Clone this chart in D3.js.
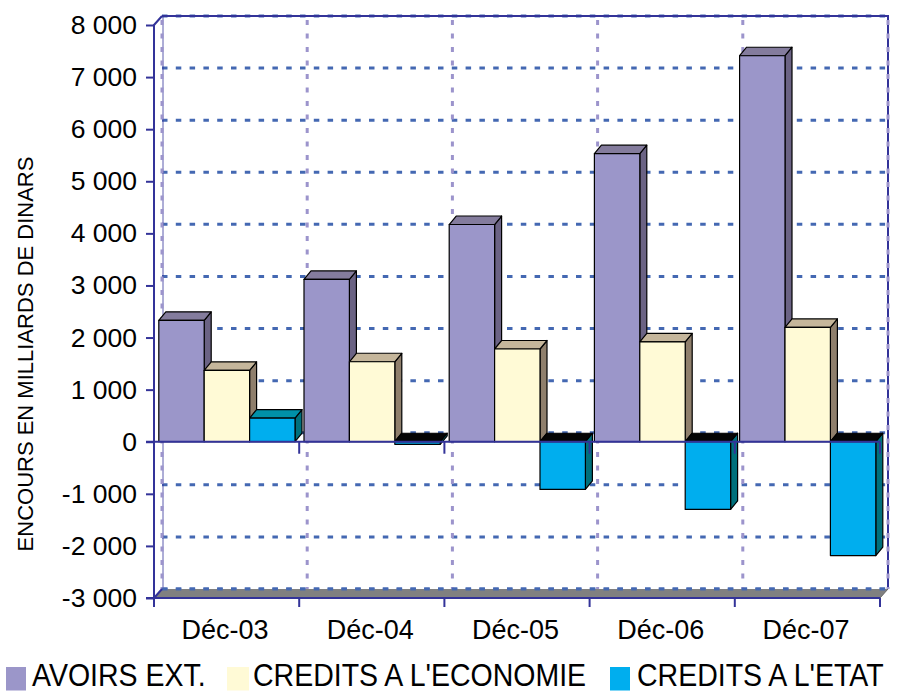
<!DOCTYPE html>
<html>
<head>
<meta charset="utf-8">
<script src="https://cdn.jsdelivr.net/npm/d3@7/dist/d3.min.js"></script>
<style>
  html, body { margin: 0; padding: 0; background: #fff; }
  svg { display: block; font-family: "Liberation Sans", Arial, sans-serif; }
</style>
</head>
<body>
<svg id="chart" width="898" height="693"></svg>
<script>
// ---- data ----
const categories = ["Déc-03", "Déc-04", "Déc-05", "Déc-06", "Déc-07"];
const seriesNames = ["AVOIRS EXT.", "CREDITS A L'ECONOMIE", "CREDITS A L'ETAT"];
const avoirsExt = [2330, 3115, 4170, 5530, 7410];
const creditsEconomie = [1370, 1535, 1780, 1915, 2195];
const creditsEtat = [455, -50, -915, -1300, -2185];
const yTickValues = [-3000, -2000, -1000, 0, 1000, 2000, 3000, 4000, 5000, 6000, 7000, 8000];
const yTitle = "ENCOURS EN MILLIARDS DE DINARS";

// ---- styles ----
const faceColors = [
  { front: "#9b96c9", top: "#847c9d", side: "#6b6384" },
  { front: "#fffad6", top: "#c5b69b", side: "#8f7f6c" },
  { front: "#00aeee", top: "#0090a8", side: "#00707c", negTop: "#050505" }
];
const legendColors = ["#9b96c9", "#fffad6", "#00aeee"];
const axisBlue = "#333399";
const gridBlue = "#4468b2";
const gridLav = "#9c94cc";

const svg = d3.select("#chart");

// ---- scales ----
const x0 = 154, x1 = 880;
const y = d3.scaleLinear().domain([-3000, 8000]).range([598, 25]);
const x = d3.scaleBand().domain(categories).range([x0, x1]).padding(0);
const xs = d3.scaleBand().domain(d3.range(3)).range([4.8, 4.8 + 136.2]).padding(0);

const wdx = 8, wdy = -9;   // wall depth
const bdx = 7, bdy = -8.5; // bar depth

// ---- back wall ----
svg.append("rect")
  .attr("x", x0 + wdx).attr("y", y(8000) + wdy)
  .attr("width", x1 - x0).attr("height", y(-3000) - y(8000))
  .attr("fill", "#fff");

// horizontal gridlines (back wall)
svg.append("g").selectAll("line").data(yTickValues).join("line")
  .attr("x1", x0 + wdx).attr("x2", x1 + wdx)
  .attr("y1", d => y(d) + wdy).attr("y2", d => y(d) + wdy)
  .attr("stroke", gridBlue).attr("stroke-width", 3)
  .attr("stroke-dasharray", "5.5,8.3");

// wall top & right border
svg.append("path")
  .attr("d", `M${x0 + wdx},${y(8000) + wdy}H${x1 + wdx}V${y(-3000) + wdy}`)
  .attr("fill", "none").attr("stroke", axisBlue).attr("stroke-width", 2);
svg.append("line")
  .attr("x1", x0 + wdx + 1).attr("x2", x0 + wdx + 1)
  .attr("y1", y(8000) + wdy).attr("y2", y(-3000) + wdy)
  .attr("stroke", axisBlue).attr("stroke-width", 0.8);

// vertical gridlines
const boundaries = categories.map(c => x(c)).concat([x1]);
svg.append("g").selectAll("line").data(boundaries).join("line")
  .attr("x1", d => d + wdx).attr("x2", d => d + wdx)
  .attr("y1", y(8000) + wdy + 4).attr("y2", y(-3000) + wdy)
  .attr("stroke", gridLav).attr("stroke-width", 3)
  .attr("stroke-dasharray", "5,8.5");

// floor
svg.append("path")
  .attr("d", `M${x0},${y(-3000)}L${x1},${y(-3000)}L${x1 + wdx},${y(-3000) + wdy}L${x0 + wdx},${y(-3000) + wdy}Z`)
  .attr("fill", "#808080");
svg.append("line")
  .attr("x1", x0 + wdx).attr("x2", x1 + wdx)
  .attr("y1", y(-3000) + wdy).attr("y2", y(-3000) + wdy)
  .attr("stroke", gridBlue).attr("stroke-width", 3)
  .attr("stroke-dasharray", "5.5,8.3");

// ---- bars ----
const seriesValues = [avoirsExt, creditsEconomie, creditsEtat];
const barsG = svg.append("g");
categories.forEach((cat, ci) => {
  seriesValues.forEach((vals, si) => {
    const v = vals[ci];
    const bx = x(cat) + xs(si);
    const bw = xs.bandwidth();
    const yTop = y(Math.max(v, 0));
    const yBot = y(Math.min(v, 0));
    const col = faceColors[si];
    const g = barsG.append("g").attr("stroke", "#000").attr("stroke-width", 1.2).attr("stroke-linejoin", "round");
    // side face
    g.append("path")
      .attr("d", `M${bx + bw},${yTop}L${bx + bw + bdx},${yTop + bdy}L${bx + bw + bdx},${yBot + bdy}L${bx + bw},${yBot}Z`)
      .attr("fill", col.side);
    // top face
    g.append("path")
      .attr("d", `M${bx},${yTop}L${bx + bdx},${yTop + bdy}L${bx + bw + bdx},${yTop + bdy}L${bx + bw},${yTop}Z`)
      .attr("fill", v < 0 ? col.negTop : col.top);
    // front face
    g.append("rect")
      .attr("x", bx).attr("y", yTop).attr("width", bw).attr("height", Math.max(yBot - yTop, 0.5))
      .attr("fill", col.front);
  });
});

// ---- axes ----
// zero line with category ticks
svg.append("line")
  .attr("x1", x0 - 8).attr("x2", x1).attr("y1", y(0)).attr("y2", y(0))
  .attr("stroke", axisBlue).attr("stroke-width", 2);
svg.append("g").selectAll("line").data(boundaries.slice(1)).join("line")
  .attr("x1", d => d).attr("x2", d => d)
  .attr("y1", y(0)).attr("y2", y(0) + 12)
  .attr("stroke", axisBlue).attr("stroke-width", 2);

// bottom axis line and ticks
svg.append("line")
  .attr("x1", x0 - 8).attr("x2", x1).attr("y1", y(-3000)).attr("y2", y(-3000))
  .attr("stroke", axisBlue).attr("stroke-width", 2);
svg.append("g").selectAll("line").data(boundaries).join("line")
  .attr("x1", d => d).attr("x2", d => d)
  .attr("y1", y(-3000)).attr("y2", y(-3000) + 9)
  .attr("stroke", axisBlue).attr("stroke-width", 2);
svg.append("line")
  .attr("x1", x1).attr("x2", x1 + wdx).attr("y1", y(-3000)).attr("y2", y(-3000) + wdy)
  .attr("stroke", "#666").attr("stroke-width", 1);

// left axis vertical line + diagonal to wall
svg.append("path")
  .attr("d", `M${x0 + wdx},${y(8000) + wdy}L${x0},${y(8000)}V${y(-3000)}L${x0 + wdx},${y(-3000) + wdy}`)
  .attr("fill", "none").attr("stroke", axisBlue).attr("stroke-width", 2);

const locale = d3.formatLocale({ decimal: ",", thousands: " ", grouping: [3], currency: ["", ""], minus: "-" });
const fmt = locale.format(",d");

const yAxis = d3.axisLeft(y).tickValues(yTickValues).tickFormat(fmt).tickSizeInner(8).tickSizeOuter(0).tickPadding(9);
const yAxisG = svg.append("g").attr("transform", `translate(${x0},0)`).call(yAxis);
yAxisG.select(".domain").remove();
yAxisG.selectAll(".tick line").attr("stroke", axisBlue).attr("stroke-width", 2);
yAxisG.selectAll(".tick text").attr("font-size", 26.5).attr("fill", "#000")
  .attr("font-family", "'Liberation Sans', Arial, sans-serif");

const xAxis = d3.axisBottom(x).tickSizeInner(0).tickSizeOuter(0).tickPadding(22);
const xAxisG = svg.append("g").attr("transform", `translate(-1.5,${y(-3000)})`).call(xAxis);
xAxisG.select(".domain").remove();
xAxisG.selectAll(".tick text").attr("font-size", 27).attr("fill", "#000")
  .attr("font-family", "'Liberation Sans', Arial, sans-serif");

// y title
svg.append("text")
  .attr("transform", "translate(33,354) rotate(-90)")
  .attr("text-anchor", "middle")
  .attr("font-size", 22).attr("fill", "#000")
  .text(yTitle);

// ---- legend ----
const legendItems = [
  { sx: 6, sw: 20, tx: 32 },
  { sx: 227, sw: 22, tx: 253 },
  { sx: 610, sw: 20, tx: 637 }
];
const lg = svg.append("g");
seriesNames.forEach((name, i) => {
  const it = legendItems[i];
  lg.append("rect").attr("x", it.sx).attr("y", 667).attr("width", it.sw).attr("height", 23.5)
    .attr("fill", legendColors[i]);
  lg.append("text").attr("transform", `translate(${it.tx},686) scale(1,1.07)`)
    .attr("font-size", 28.5).attr("fill", "#000")
    .text(name);
});
</script>
</body>
</html>
